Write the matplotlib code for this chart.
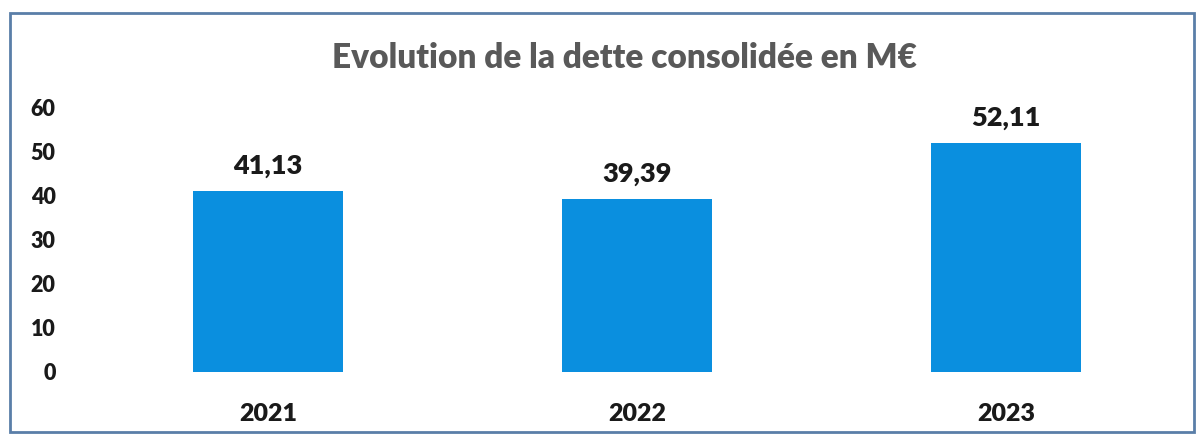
import matplotlib
matplotlib.use("Agg")
import matplotlib.pyplot as plt
from matplotlib.patches import Rectangle

categories = ["2021", "2022", "2023"]
values = [41.13, 39.39, 52.11]
labels = ["41,13", "39,39", "52,11"]
yticks = [0, 10, 20, 30, 40, 50, 60]

plt.rcParams['font.family'] = ['Lato', 'DejaVu Sans']

W, H = 1202, 437
fig = plt.figure(figsize=(W/100, H/100), dpi=100)
ax = fig.add_axes([83.5/W, (H-372)/H, (1190.5-83.5)/W, (372-108)/H])

x = range(len(categories))
bars = ax.bar(x, values, width=0.405, color='#0a8fdf')
ax.set_xlim(-0.5, len(categories)-0.5)
ax.set_ylim(0, 60)
ax.set_yticks(yticks)
ax.set_yticklabels([str(t) for t in yticks], fontsize=15.5, fontweight='heavy', color='#1a1a1a')
ax.set_xticks(list(x))
ax.set_xticklabels(categories, fontsize=18, fontweight='heavy', color='#1a1a1a')
ax.tick_params(axis='both', length=0)
ax.tick_params(axis='x', pad=22)
ax.tick_params(axis='y', pad=20)
for s in ax.spines.values():
    s.set_visible(False)

for xi, v, lab in zip(x, values, labels):
    ax.annotate(lab, (xi, v), xytext=(0, 13), textcoords='offset pixels',
                ha='center', va='bottom', fontsize=19.5, fontweight='heavy', color='#1a1a1a')

fig.text(624/W, 1-58/H, "Evolution de la dette consolidée en M€", ha='center', va='center',
         fontsize=24, fontweight='heavy', color='#595959')

fig.patches.append(Rectangle((10/W, 5/H), (1194-10)/W, (424-5)/H, transform=fig.transFigure,
                             fill=False, edgecolor='#5a7ea8', linewidth=2))

fig.savefig("out.png", dpi=100)
